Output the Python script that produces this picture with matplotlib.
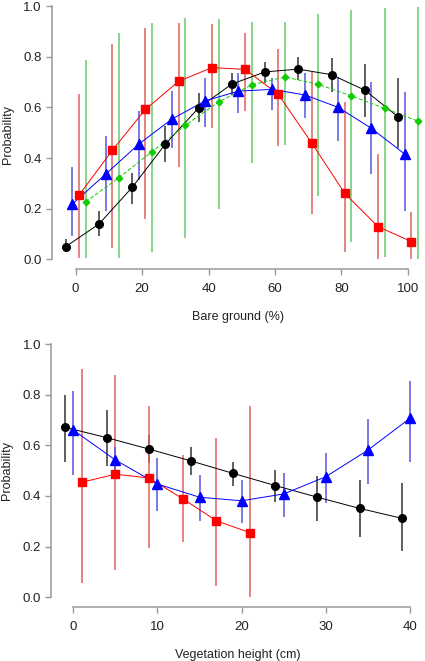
import numpy as np
import matplotlib.pyplot as plt

plt.rcParams['font.family'] = ['Liberation Sans', 'DejaVu Sans']

# --- bare ground panel ---
bg_black_x = [-3, 7, 17, 27, 37, 47, 57, 67, 77, 87, 97]
bg_black_y = [0.05, 0.139, 0.284, 0.455, 0.598, 0.692, 0.74, 0.751, 0.729, 0.668, 0.563]
bg_black_lo = [0.029, 0.092, 0.218, 0.383, 0.543, 0.649, 0.696, 0.707, 0.662, 0.563, 0.438]
bg_black_hi = [0.079, 0.19, 0.34, 0.526, 0.658, 0.737, 0.779, 0.797, 0.793, 0.771, 0.715]

bg_red_x = [1, 11, 21, 31, 41, 51, 61, 71, 81, 91, 101]
bg_red_y = [0.253, 0.43, 0.592, 0.703, 0.757, 0.75, 0.651, 0.46, 0.26, 0.129, 0.07]
bg_red_lo = [0.006, 0.043, 0.158, 0.366, 0.517, 0.585, 0.447, 0.178, 0.03, 0.0, 0.0]
bg_red_hi = [0.653, 0.85, 0.912, 0.932, 0.929, 0.892, 0.83, 0.738, 0.62, 0.415, 0.188]

bg_blue_x = [-1, 9, 19, 29, 39, 49, 59, 69, 79, 89, 99]
bg_blue_y = [0.218, 0.336, 0.455, 0.554, 0.626, 0.664, 0.671, 0.649, 0.6, 0.517, 0.416]
bg_blue_lo = [0.092, 0.192, 0.313, 0.438, 0.524, 0.576, 0.59, 0.557, 0.468, 0.336, 0.192]
bg_blue_hi = [0.363, 0.487, 0.587, 0.666, 0.715, 0.737, 0.715, 0.734, 0.721, 0.701, 0.659]

bg_green_x = [3, 13, 23, 33, 43, 53, 63, 73, 83, 93, 103]
bg_green_y = [0.227, 0.322, 0.425, 0.529, 0.621, 0.689, 0.72, 0.691, 0.645, 0.596, 0.546]
bg_green_lo = [0.004, 0.006, 0.03, 0.085, 0.2, 0.379, 0.451, 0.251, 0.07, 0.01, 0.0]
bg_green_hi = [0.787, 0.892, 0.934, 0.951, 0.947, 0.938, 0.936, 0.968, 0.984, 0.991, 0.997]

# --- vegetation height panel ---
vh_black_x = [-1, 4, 9, 14, 19, 24, 29, 34, 39]
vh_black_y = [0.671, 0.63, 0.585, 0.538, 0.489, 0.441, 0.395, 0.351, 0.312]
vh_black_lo = [0.533, 0.518, 0.53, 0.483, 0.441, 0.375, 0.302, 0.239, 0.184]
vh_black_hi = [0.799, 0.739, 0.64, 0.595, 0.535, 0.503, 0.48, 0.463, 0.45]

vh_blue_x = [0, 5, 10, 15, 20, 25, 30, 35, 40]
vh_blue_y = [0.66, 0.542, 0.447, 0.395, 0.381, 0.408, 0.476, 0.581, 0.707]
vh_blue_lo = [0.483, 0.49, 0.341, 0.302, 0.295, 0.318, 0.371, 0.446, 0.533]
vh_blue_hi = [0.816, 0.595, 0.549, 0.483, 0.463, 0.49, 0.568, 0.703, 0.854]

vh_red_x = [1, 5, 9, 13, 17, 21]
vh_red_y = [0.454, 0.486, 0.471, 0.389, 0.302, 0.255]
vh_red_lo = [0.055, 0.108, 0.193, 0.22, 0.046, 0.002]
vh_red_hi = [0.9, 0.878, 0.755, 0.562, 0.63, 0.755]

yticks = [0.0, 0.2, 0.4, 0.6, 0.8, 1.0]

fig = plt.figure(figsize=(4.25, 6.61), dpi=100)
ax1 = fig.add_axes([0.1214, 0.5924, 0.8776, 0.4076])
ax2 = fig.add_axes([0.1202, 0.0811, 0.877, 0.4138])


def series(ax, x, y, lo, hi, col, ecol, marker, ms, ls='-'):
    ax.vlines(x, lo, hi, color=ecol, lw=1.1, zorder=1)
    ax.plot(x, y, color=col, lw=0.7, ls=ls, zorder=2)
    ax.plot(x, y, ls='none', marker=marker, ms=ms, mfc=col, mec=col, zorder=3)


def style(ax, xticks, xlabel):
    for s in ['top', 'right']:
        ax.spines[s].set_visible(False)
    for s in ['left', 'bottom']:
        ax.spines[s].set_color('#999999')
        ax.spines[s].set_linewidth(1.1)
    ax.spines['left'].set_bounds(0, 1)
    ax.spines['bottom'].set_bounds(xticks[0], xticks[-1])
    ax.set_xticks(xticks)
    ax.set_yticks(yticks)
    ax.set_yticklabels(['%.1f' % v for v in yticks])
    ax.tick_params(length=4, width=1.0, color='#999999', labelsize=9.5,
                   labelcolor='#222222')
    ax.tick_params(axis='x', pad=6)
    ax.tick_params(axis='y', pad=3)
    ax.set_ylabel('Probability', fontsize=9, labelpad=7, color='#222222')
    ax.set_xlabel(xlabel, fontsize=9, labelpad=11, color='#222222')
    ax.patch.set_alpha(0)


series(ax1, bg_black_x, bg_black_y, bg_black_lo, bg_black_hi, 'black', '#333333', 'o', 5.5)
series(ax1, bg_blue_x, bg_blue_y, bg_blue_lo, bg_blue_hi, '#0000FF', '#5555DD', '^', 6.5)
series(ax1, bg_green_x, bg_green_y, bg_green_lo, bg_green_hi, '#11CC00', '#66CC66', 'D', 3.3, ls=(0, (4, 2)))
series(ax1, bg_red_x, bg_red_y, bg_red_lo, bg_red_hi, '#FF0000', '#E06060', 's', 5.5)
ax1.set_xlim(-7.24, 105.0)
ax1.set_ylim(-0.04, 1.024)
style(ax1, [0, 20, 40, 60, 80, 100], 'Bare ground (%)')

series(ax2, vh_black_x, vh_black_y, vh_black_lo, vh_black_hi, 'black', '#333333', 'o', 5.5)
series(ax2, vh_red_x, vh_red_y, vh_red_lo, vh_red_hi, '#FF0000', '#E06060', 's', 5.5)
series(ax2, vh_blue_x, vh_blue_y, vh_blue_lo, vh_blue_hi, '#0000FF', '#5555DD', '^', 6.5)
ax2.set_xlim(-2.64, 41.64)
ax2.set_ylim(-0.04, 1.04)
style(ax2, [0, 10, 20, 30, 40], 'Vegetation height (cm)')

fig.savefig('out.png', dpi=100)
